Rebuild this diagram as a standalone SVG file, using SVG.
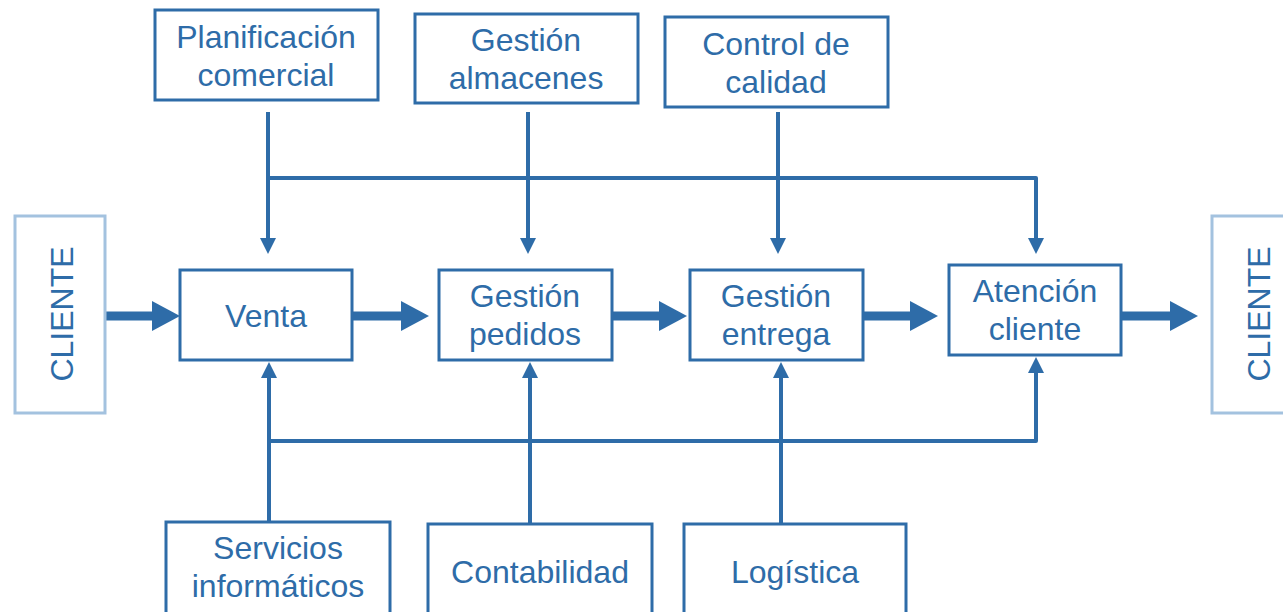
<svg xmlns="http://www.w3.org/2000/svg" width="1283" height="612" viewBox="0 0 1283 612">
  <style>
    .box { fill: #ffffff; stroke: #2e6ca8; stroke-width: 3; }
    .cbox { fill: #ffffff; stroke: #a3c2df; stroke-width: 3; }
    .t { font-family: "Liberation Sans", Arial, sans-serif; font-size: 32px; fill: #2e6ca8; text-anchor: middle; }
    .thin { fill: none; stroke: #2e6ca8; stroke-width: 4; stroke-linejoin: round; }
    .thick { fill: none; stroke: #2e6ca8; stroke-width: 9; }
  </style>
  <defs>
    <marker id="ah" markerUnits="userSpaceOnUse" markerWidth="16" markerHeight="16" viewBox="0 0 16 16" refX="6" refY="8" orient="auto">
      <path d="M0,0 L16,8 L0,16 Z" fill="#2e6ca8"/>
    </marker>
    <marker id="ahb" markerUnits="userSpaceOnUse" markerWidth="28" markerHeight="30" viewBox="0 0 28 30" refX="8" refY="15" orient="auto">
      <path d="M0,0 L28,15 L0,30 Z" fill="#2e6ca8"/>
    </marker>
  </defs>

  <g id="connectors">
    <!-- top feeds -->
    <path class="thin" d="M268,112 V244" marker-end="url(#ah)"/>
    <path class="thin" d="M268,178 H1036 V244" marker-end="url(#ah)"/>
    <path class="thin" d="M528,112 V244" marker-end="url(#ah)"/>
    <path class="thin" d="M778,112 V244" marker-end="url(#ah)"/>
    <!-- bottom feeds -->
    <path class="thin" d="M269,522 V372" marker-end="url(#ah)"/>
    <path class="thin" d="M269,441 H1036 V367" marker-end="url(#ah)"/>
    <path class="thin" d="M530,524 V372" marker-end="url(#ah)"/>
    <path class="thin" d="M781,524 V372" marker-end="url(#ah)"/>
    <!-- main flow -->
    <path class="thick" d="M106,316 H160" marker-end="url(#ahb)"/>
    <path class="thick" d="M353,316 H409" marker-end="url(#ahb)"/>
    <path class="thick" d="M613,316 H667" marker-end="url(#ahb)"/>
    <path class="thick" d="M864,316 H918" marker-end="url(#ahb)"/>
    <path class="thick" d="M1122,316 H1178" marker-end="url(#ahb)"/>
  </g>

  <g id="cliente-in">
    <rect class="cbox" x="15" y="216" width="90" height="197"/>
    <text class="t" transform="translate(73,314) rotate(-90)">CLIENTE</text>
  </g>
  <g id="cliente-out">
    <rect class="cbox" x="1212" y="216" width="90" height="197"/>
    <text class="t" transform="translate(1270,314) rotate(-90)">CLIENTE</text>
  </g>

  <g id="venta">
    <rect class="box" x="180" y="270" width="172" height="90"/>
    <text class="t" x="266" y="327">Venta</text>
  </g>
  <g id="gestion-pedidos">
    <rect class="box" x="439" y="270" width="173" height="90"/>
    <text class="t" x="525" y="307">Gestión</text>
    <text class="t" x="525" y="345">pedidos</text>
  </g>
  <g id="gestion-entrega">
    <rect class="box" x="690" y="270" width="173" height="90"/>
    <text class="t" x="776" y="307">Gestión</text>
    <text class="t" x="776" y="345">entrega</text>
  </g>
  <g id="atencion-cliente">
    <rect class="box" x="949" y="265" width="172" height="90"/>
    <text class="t" x="1035" y="302">Atención</text>
    <text class="t" x="1035" y="340">cliente</text>
  </g>

  <g id="planificacion-comercial">
    <rect class="box" x="155" y="10" width="223" height="90"/>
    <text class="t" x="266" y="48">Planificación</text>
    <text class="t" x="266" y="86">comercial</text>
  </g>
  <g id="gestion-almacenes">
    <rect class="box" x="415" y="14" width="223" height="89"/>
    <text class="t" x="526" y="51">Gestión</text>
    <text class="t" x="526" y="89">almacenes</text>
  </g>
  <g id="control-calidad">
    <rect class="box" x="665" y="17" width="223" height="90"/>
    <text class="t" x="776" y="55">Control de</text>
    <text class="t" x="776" y="93">calidad</text>
  </g>

  <g id="servicios-informaticos">
    <rect class="box" x="166" y="522" width="224" height="100"/>
    <text class="t" x="278" y="559">Servicios</text>
    <text class="t" x="278" y="597">informáticos</text>
  </g>
  <g id="contabilidad">
    <rect class="box" x="428" y="524" width="224" height="100"/>
    <text class="t" x="540" y="583">Contabilidad</text>
  </g>
  <g id="logistica">
    <rect class="box" x="684" y="524" width="222" height="100"/>
    <text class="t" x="795" y="583">Logística</text>
  </g>
</svg>
